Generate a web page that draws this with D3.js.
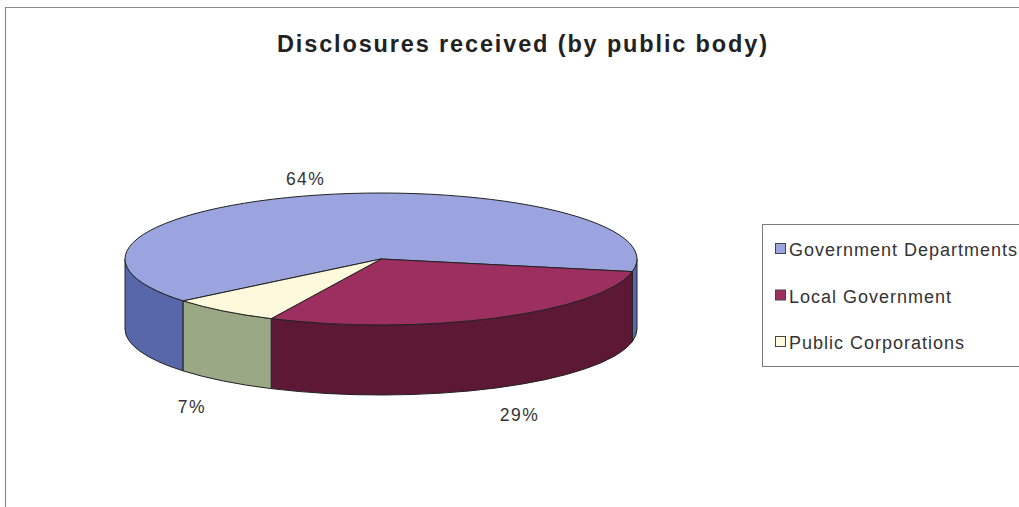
<!DOCTYPE html>
<html>
<head>
<meta charset="utf-8">
<script src="https://cdn.jsdelivr.net/npm/d3@7"></script>
<style>
  html, body { margin: 0; padding: 0; background: #fff; }
  svg { display: block; font-family: "Liberation Sans", Arial, sans-serif; }
</style>
</head>
<body>
<div id="chart"></div>
<script>
// chart data
const categories = ['Government Departments', 'Local Government', 'Public Corporations'];
const values = [64, 29, 7];
const labels = ['64%', '29%', '7%'];
const topColors = ['#9ca4df', '#9d2f60', '#fcf9dc'];
const sideColors = ['#5866aa', '#5c1835', '#9aa885'];

const width = 1019, height = 507;

const svg = d3.select('#chart').append('svg')
    .attr('width', width)
    .attr('height', height);

// outer frame (only left and top edges are visible in the scan)
svg.append('path')
    .attr('d', `M5.5,${height} L5.5,7.5 L${width},7.5`)
    .attr('fill', 'none')
    .attr('stroke', '#8a8a8a')
    .attr('stroke-width', 1.2);

svg.append('text')
    .attr('x', 522)
    .attr('y', 52)
    .attr('text-anchor', 'middle')
    .attr('font-size', 23.5)
    .attr('font-weight', 'bold')
    .attr('fill', '#222')
    .attr('textLength', 490)
    .attr('lengthAdjust', 'spacing')
    .text('Disclosures received (by public body)');

// pie geometry
const cx = 381, cy = 259, rx = 256, ry = 66, depth = 70;
const start = 230.6 * Math.PI / 180;

const pie = d3.pie().sort(null)
    .startAngle(start)
    .endAngle(start + 2 * Math.PI);
const arcs = pie(values);

const pt = a => [cx + rx * Math.sin(a), cy - ry * Math.cos(a)];

// side walls: only the front half of the rim (d3 angle between 90 and 270 deg)
const sides = svg.append('g');
arcs.forEach((d, i) => {
    for (let k = -1; k <= 2; k++) {
        const lo = Math.max(d.startAngle, Math.PI / 2 + k * 2 * Math.PI);
        const hi = Math.min(d.endAngle, 3 * Math.PI / 2 + k * 2 * Math.PI);
        if (hi <= lo) continue;
        const p0 = pt(lo), p1 = pt(hi);
        const path = `M${p0[0]},${p0[1]}` +
            `A${rx},${ry} 0 0 1 ${p1[0]},${p1[1]}` +
            `L${p1[0]},${p1[1] + depth}` +
            `A${rx},${ry} 0 0 0 ${p0[0]},${p0[1] + depth}Z`;
        sides.append('path')
            .attr('d', path)
            .attr('fill', sideColors[i])
            .attr('stroke', '#222')
            .attr('stroke-width', 1)
            .attr('stroke-linejoin', 'round');
    }
});

// top faces, squashed circle
const arc = d3.arc().innerRadius(0).outerRadius(rx);
svg.append('g')
    .attr('transform', `translate(${cx},${cy}) scale(1,${ry / rx})`)
    .selectAll('path')
    .data(arcs)
    .join('path')
    .attr('d', arc)
    .attr('fill', (d, i) => topColors[i])
    .attr('stroke', '#222')
    .attr('stroke-width', 1)
    .attr('stroke-linejoin', 'round')
    .attr('vector-effect', 'non-scaling-stroke');

// percentage labels outside the pie
svg.append('g')
    .selectAll('text')
    .data(arcs)
    .join('text')
    .attr('x', d => {
        const m = (d.startAngle + d.endAngle) / 2;
        return cx + rx * 1.2 * Math.sin(m);
    })
    .attr('y', d => {
        const m = (d.startAngle + d.endAngle) / 2;
        let y = cy - ry * 1.26 * Math.cos(m);
        if (Math.cos(m) < 0) y += depth + 12;
        return y;
    })
    .attr('dy', '0.35em')
    .attr('text-anchor', 'middle')
    .attr('font-size', 17.5)
    .attr('letter-spacing', 1.5)
    .attr('fill', '#333')
    .text((d, i) => labels[i]);

// legend
const legend = svg.append('g');
legend.append('rect')
    .attr('x', 762.5)
    .attr('y', 224.5)
    .attr('width', 300)
    .attr('height', 142)
    .attr('fill', '#fff')
    .attr('stroke', '#7a7a7a')
    .attr('stroke-width', 1);

const rowY = d3.scalePoint().domain(categories).range([256, 349]);
categories.forEach((c, i) => {
    legend.append('rect')
        .attr('x', 775.5)
        .attr('y', rowY(c) - 12.5)
        .attr('width', 10)
        .attr('height', 10)
        .attr('fill', topColors[i])
        .attr('stroke', '#444')
        .attr('stroke-width', 1);
    legend.append('text')
        .attr('x', 789)
        .attr('y', rowY(c))
        .attr('font-size', 18)
        .attr('letter-spacing', 1)
        .attr('fill', '#333')
        .text(c);
});
</script>
</body>
</html>
